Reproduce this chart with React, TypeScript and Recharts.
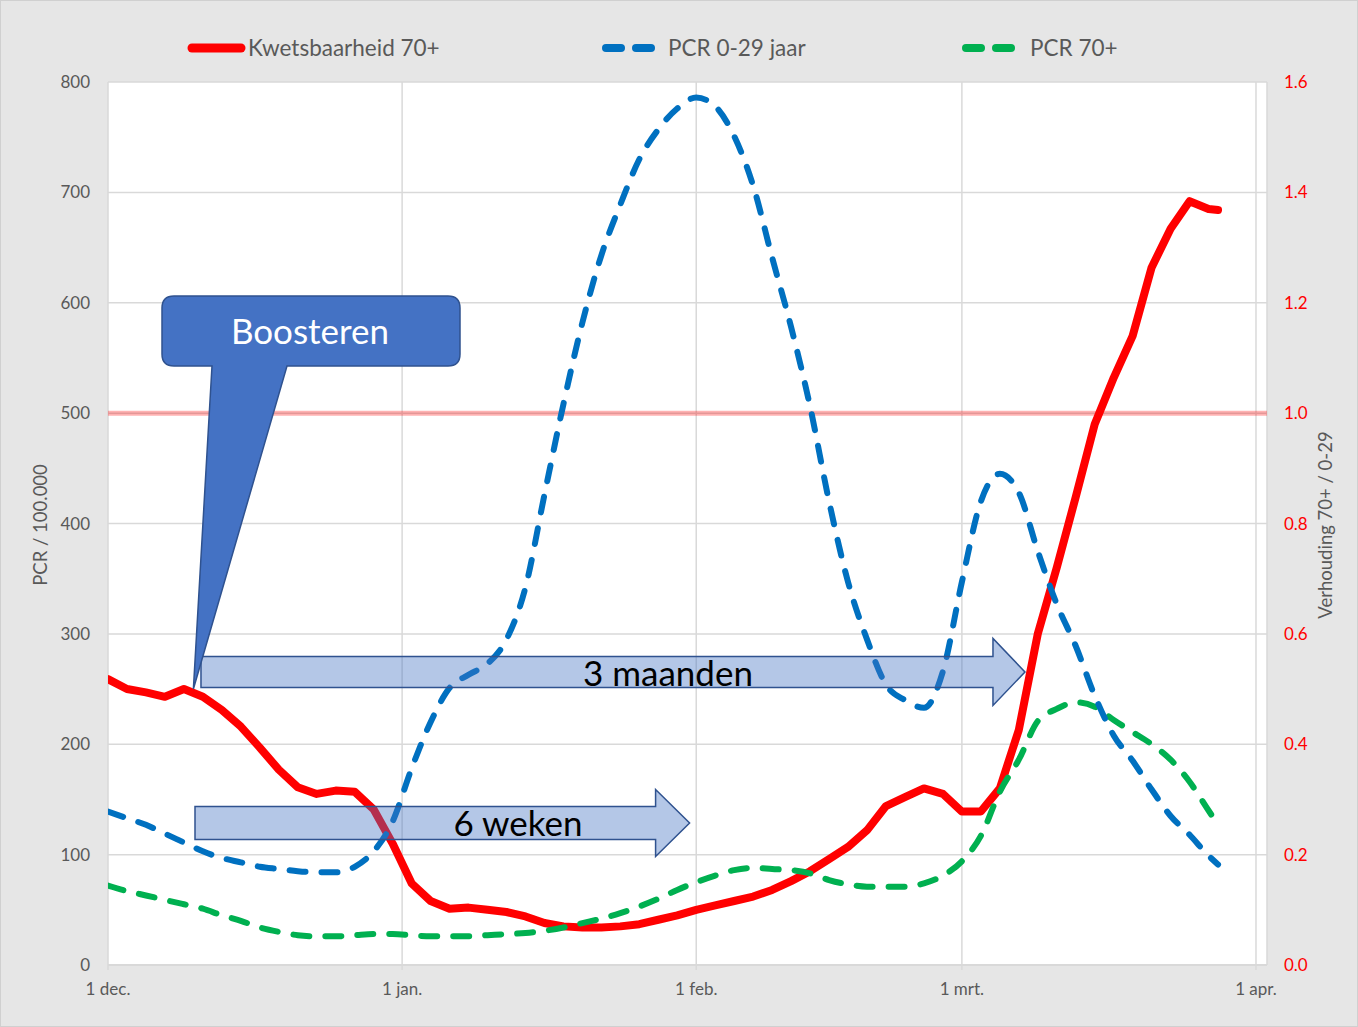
import React from 'react';
import {
  LineChart,
  Line,
  XAxis,
  YAxis,
  CartesianGrid,
  ReferenceLine,
} from 'recharts';

// day 0 = 1 dec.
const days = [
  0, 2, 4, 6, 8, 10, 12, 14, 16, 18, 20, 22, 24, 26, 28, 30, 32, 34, 36, 38,
  40, 42, 44, 46, 48, 50, 52, 54, 56, 58, 60, 62, 64, 66, 68, 70, 72, 74, 76,
  78, 80, 82, 84, 86, 88, 90, 92, 94, 96, 98, 100, 102, 104, 106, 108, 110,
  112, 114, 116, 117,
];

// Verhouding 70+ / 0-29 (right axis)
const kwetsbaarheid = [
  0.518, 0.5, 0.494, 0.486, 0.5, 0.486, 0.462, 0.432, 0.394, 0.354, 0.322,
  0.31, 0.316, 0.314, 0.282, 0.22, 0.148, 0.116, 0.102, 0.104, 0.1, 0.096,
  0.088, 0.076, 0.07, 0.068, 0.068, 0.07, 0.074, 0.082, 0.09, 0.1, 0.108,
  0.116, 0.124, 0.136, 0.152, 0.17, 0.192, 0.214, 0.244, 0.288, 0.304, 0.32,
  0.31, 0.278, 0.278, 0.32, 0.426, 0.6, 0.72, 0.848, 0.98, 1.064, 1.14, 1.264,
  1.334, 1.384, 1.37, 1.368,
];

// PCR / 100.000 (left axis)
const pcrJong = [
  139, 133, 127, 119, 111, 103, 97, 93, 89, 87, 85, 84, 84, 89, 103, 130, 178,
  220, 251, 263, 273, 295, 342, 426, 508, 582, 643, 689, 730, 757, 776, 786,
  778, 751, 706, 641, 578, 506, 420, 347, 295, 254, 240, 233, 266, 347, 420,
  445, 428, 375, 327, 289, 244, 208, 185, 159, 135, 118, 99, 91,
];

const pcrOud = [
  72, 67, 63, 59, 55, 51, 45, 40, 34, 30, 27, 26, 26, 27, 28, 28, 27, 26, 26,
  26, 27, 28, 29, 31, 34, 38, 42, 47, 53, 60, 68, 75, 81, 86, 88, 87, 86, 83,
  77, 73, 71, 71, 71, 74, 81, 94, 117, 157, 186, 221, 232, 238, 234, 222, 211,
  200, 186, 166, 140, 127,
];

const dateTicks = [0, 31, 62, 90, 121];
const dateLabels = ['1 dec.', '1 jan.', '1 feb.', '1 mrt.', '1 apr.'];
const leftTicks = [0, 100, 200, 300, 400, 500, 600, 700, 800];
const rightTicks = [0, 0.2, 0.4, 0.6, 0.8, 1.0, 1.2, 1.4, 1.6];

const W = 1358;
const H = 1027;
const PLOT = { left: 108, right: 1267, top: 82, bottom: 965 };
const X_MAX = 122.16;
const Y_MAX = 800;
const FONT = 'Lato, "Open Sans", sans-serif';
const GREY = '#595959';

const sx = (d: number) =>
  PLOT.left + (d / X_MAX) * (PLOT.right - PLOT.left);
const sy = (v: number) =>
  PLOT.bottom - (v / Y_MAX) * (PLOT.bottom - PLOT.top);

const chartData = days.map((d, i) => ({
  day: d,
  kwets: kwetsbaarheid[i],
  jong: pcrJong[i],
  oud: pcrOud[i],
}));

const blockArrow = (
  x0: number,
  tip: number,
  yc: number,
  shaftHalf: number,
  headHalf: number,
  headLen: number
) => {
  const hx = tip - headLen;
  return `M ${x0} ${yc - shaftHalf} H ${hx} V ${yc - headHalf} L ${tip} ${yc} L ${hx} ${
    yc + headHalf
  } V ${yc + shaftHalf} H ${x0} Z`;
};

const Overlay = () => {
  // callout points at the red line near 9 dec.
  const tipX = sx(9);
  const tipY = sy(250);
  const callout = `M 174 296 H 448 Q 460 296 460 308 V 354 Q 460 366 448 366 H 287 L ${tipX} ${tipY} L 212 366 H 174 Q 162 366 162 354 V 308 Q 162 296 174 296 Z`;

  const yc3 = sy(265.5);
  const yc6 = sy(128.6);

  return (
    <svg
      width={W}
      height={H}
      style={{ position: 'absolute', left: 0, top: 0, pointerEvents: 'none' }}
    >
      {/* Legend */}
      <g fontFamily={FONT} fontSize={22.5} fill={GREY}>
        <line x1={192} y1={48} x2={241} y2={48} stroke="#FF0000" strokeWidth={9} strokeLinecap="round" />
        <text x={248} y={56}>Kwetsbaarheid 70+</text>
        <line x1={606} y1={48} x2={621} y2={48} stroke="#0070C0" strokeWidth={8} strokeLinecap="round" />
        <line x1={636} y1={48} x2={651} y2={48} stroke="#0070C0" strokeWidth={8} strokeLinecap="round" />
        <text x={668} y={56}>PCR 0-29 jaar</text>
        <line x1={966} y1={48} x2={981} y2={48} stroke="#00B050" strokeWidth={8} strokeLinecap="round" />
        <line x1={996} y1={48} x2={1011} y2={48} stroke="#00B050" strokeWidth={8} strokeLinecap="round" />
        <text x={1030} y={56}>PCR 70+</text>
      </g>

      {/* Axis titles */}
      <text
        x={42}
        y={525}
        transform="rotate(-90 42 525)"
        textAnchor="middle"
        dominantBaseline="middle"
        fontFamily={FONT}
        fontSize={18.5}
        fill={GREY}
      >
        PCR / 100.000
      </text>
      <text
        x={1327}
        y={525}
        transform="rotate(-90 1327 525)"
        textAnchor="middle"
        dominantBaseline="middle"
        fontFamily={FONT}
        fontSize={18.5}
        fill={GREY}
      >
        Verhouding 70+ / 0-29
      </text>

      {/* Arrows */}
      <path
        d={blockArrow(sx(9.8), sx(96.65), yc3, 15.5, 33.5, 32)}
        fill="#4472C4"
        fillOpacity={0.4}
        stroke="#2F528F"
        strokeWidth={1.5}
      />
      <text x={668} y={686} textAnchor="middle" fontFamily={FONT} fontSize={35} fill="#000">
        3 maanden
      </text>
      <path
        d={blockArrow(sx(9.17), sx(61.3), yc6, 16.5, 33.5, 34)}
        fill="#4472C4"
        fillOpacity={0.4}
        stroke="#2F528F"
        strokeWidth={1.5}
      />
      <text x={518} y={836} textAnchor="middle" fontFamily={FONT} fontSize={35} fill="#000">
        6 weken
      </text>

      {/* Callout */}
      <path d={callout} fill="#4472C4" stroke="#2F528F" strokeWidth={1.5} />
      <text x={310} y={344} textAnchor="middle" fontFamily={FONT} fontSize={35} fill="#fff">
        Boosteren
      </text>
    </svg>
  );
};

const App: React.FC = () => {
  return (
    <div
      style={{
        position: 'absolute',
        left: 0,
        top: 0,
        width: W,
        height: H,
        background: '#E6E6E6',
        border: '1px solid #D0D0D0',
        boxSizing: 'border-box',
        fontFamily: FONT,
      }}
    >
      <div style={{ position: 'absolute', left: -1, top: -1 }}>
        <LineChart
          width={W}
          height={H}
          data={chartData}
          margin={{ top: PLOT.top, right: 0, bottom: 32, left: 0 }}
        >
          <CartesianGrid
            yAxisId="left"
            fill="#FFFFFF"
            stroke="#D9D9D9"
            strokeWidth={1.5}
          />
          <XAxis
            dataKey="day"
            type="number"
            domain={[0, X_MAX]}
            ticks={dateTicks}
            tickFormatter={(v: number) => dateLabels[dateTicks.indexOf(v)]}
            height={30}
            axisLine={{ stroke: '#D9D9D9', strokeWidth: 2 }}
            tickLine={{ stroke: '#D9D9D9', strokeWidth: 1.5 }}
            tickSize={5}
            tickMargin={13}
            tick={{ fill: GREY, fontSize: 17, fontFamily: FONT }}
            allowDataOverflow
          />
          <YAxis
            yAxisId="left"
            width={PLOT.left}
            domain={[0, Y_MAX]}
            ticks={leftTicks}
            axisLine={false}
            tickLine={false}
            tickSize={0}
            tickMargin={18}
            tick={{ fill: GREY, fontSize: 17, fontFamily: FONT }}
          />
          <YAxis
            yAxisId="right"
            orientation="right"
            width={W - PLOT.right}
            domain={[0, 1.6]}
            ticks={rightTicks}
            tickFormatter={(v: number) => v.toFixed(1)}
            axisLine={false}
            tickLine={false}
            tickSize={0}
            tickMargin={17}
            tick={{ fill: '#FF0000', fontSize: 17, fontFamily: FONT }}
          />
          <ReferenceLine
            yAxisId="left"
            y={500}
            stroke="#FF0000"
            strokeOpacity={0.3}
            strokeWidth={5}
          />
          <Line
            yAxisId="right"
            type="linear"
            dataKey="kwets"
            stroke="#FF0000"
            strokeWidth={8}
            strokeLinecap="round"
            strokeLinejoin="round"
            dot={false}
            isAnimationActive={false}
          />
          <Line
            yAxisId="left"
            type="monotone"
            dataKey="oud"
            stroke="#00B050"
            strokeWidth={6}
            strokeDasharray="16 16"
            strokeLinecap="round"
            dot={false}
            isAnimationActive={false}
          />
          <Line
            yAxisId="left"
            type="monotone"
            dataKey="jong"
            stroke="#0070C0"
            strokeWidth={6}
            strokeDasharray="16 16"
            strokeLinecap="round"
            dot={false}
            isAnimationActive={false}
          />
        </LineChart>
      </div>
      <div style={{ position: 'absolute', left: -1, top: -1 }}>
        <Overlay />
      </div>
    </div>
  );
};

export default App;
